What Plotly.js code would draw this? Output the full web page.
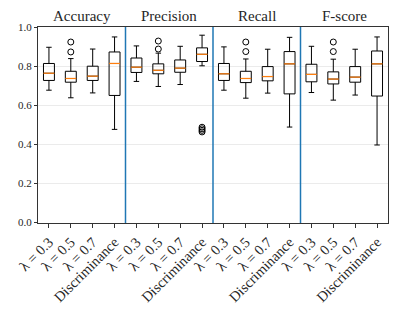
<!DOCTYPE html>
<html>
<head>
<meta charset="utf-8">
<script src="https://cdn.plot.ly/plotly-3.0.1.min.js"></script>
<style>html,body{margin:0;padding:0;background:#fff;}#chart{width:399px;height:310px;}</style>
</head>
<body>
<div id="chart"></div>
<script>
// Data
const groups = ["Accuracy", "Precision", "Recall", "F-score"];
const tickLabels = ["λ = 0.3", "λ = 0.5", "λ = 0.7", "Discriminance",
                    "λ = 0.3", "λ = 0.5", "λ = 0.7", "Discriminance",
                    "λ = 0.3", "λ = 0.5", "λ = 0.7", "Discriminance",
                    "λ = 0.3", "λ = 0.5", "λ = 0.7", "Discriminance"];
const lowerWhisker = [0.676, 0.637, 0.662, 0.475,  0.721, 0.695, 0.705, 0.801,  0.676, 0.635, 0.661, 0.487,  0.664, 0.625, 0.651, 0.395];
const q1Values     = [0.726, 0.717, 0.726, 0.649,  0.767, 0.760, 0.768, 0.823,  0.726, 0.715, 0.724, 0.657,  0.719, 0.708, 0.717, 0.646];
const medianValues = [0.763, 0.736, 0.748, 0.813,  0.794, 0.778, 0.789, 0.860,  0.760, 0.736, 0.746, 0.811,  0.757, 0.733, 0.743, 0.811];
const q3Values     = [0.813, 0.773, 0.799, 0.872,  0.841, 0.811, 0.831, 0.893,  0.813, 0.773, 0.797, 0.874,  0.809, 0.770, 0.797, 0.877];
const upperWhisker = [0.896, 0.838, 0.887, 0.949,  0.903, 0.866, 0.901, 0.958,  0.898, 0.836, 0.886, 0.947,  0.901, 0.835, 0.886, 0.949];
// outliers: [box index (1-based), value]
const outlierBox   = [2, 2, 6, 6, 8, 8, 8, 8, 10, 10, 14, 14];
const outlierValue = [0.923, 0.872, 0.928, 0.887, 0.462, 0.470, 0.478, 0.486, 0.923, 0.874, 0.923, 0.874];

const positions = tickLabels.map((_, i) => i + 1);
const boxWidth = 0.5;

const boxTrace = {
  type: 'box',
  x: positions,
  q1: q1Values,
  median: medianValues,
  q3: q3Values,
  lowerfence: lowerWhisker,
  upperfence: upperWhisker,
  width: boxWidth,
  whiskerwidth: 0.5,
  fillcolor: 'rgba(0,0,0,0)',
  line: {color: '#000', width: 1},
  boxpoints: false,
  hoverinfo: 'skip',
  showlegend: false
};

const medX = [], medY = [];
positions.forEach((p, i) => {
  medX.push(p - boxWidth / 2, p + boxWidth / 2, null);
  medY.push(medianValues[i], medianValues[i], null);
});
const medianTrace = {
  type: 'scatter', mode: 'lines', x: medX, y: medY,
  line: {color: '#ff7f0e', width: 1.2}, hoverinfo: 'skip', showlegend: false
};

const outlierTrace = {
  type: 'scatter', mode: 'markers', x: outlierBox, y: outlierValue,
  marker: {symbol: 'circle-open', size: 6, color: '#000', line: {width: 1, color: '#000'}},
  hoverinfo: 'skip', showlegend: false
};

const perGroup = 4;
const shapes = [];
for (let g = 1; g < groups.length; g++) {
  const xs = g * perGroup + 0.5;
  shapes.push({type: 'line', xref: 'x', yref: 'paper', x0: xs, x1: xs, y0: 0, y1: 1,
               line: {color: '#1f77b4', width: 1.5}});
}
const annotations = groups.map((name, g) => ({
  text: name, xref: 'x', yref: 'paper', x: g * perGroup + (perGroup + 1) / 2, y: 1,
  yanchor: 'bottom', yshift: 1, showarrow: false,
  font: {family: 'Liberation Serif, serif', size: 15, color: '#262626'}
}));

const layout = {
  width: 399, height: 310,
  margin: {l: 38, r: 11, t: 27, b: 87, pad: 0},
  paper_bgcolor: '#fff', plot_bgcolor: '#fff',
  showlegend: false,
  font: {family: 'Liberation Serif, serif', color: '#262626'},
  xaxis: {
    range: [0.5, 16.5], tickvals: positions, ticktext: tickLabels, tickangle: -45,
    showgrid: false, zeroline: false, showline: true, mirror: true, linecolor: '#333', linewidth: 1,
    ticks: 'outside', ticklen: 4, tickcolor: '#333',
    tickfont: {family: 'Liberation Serif, serif', size: 14.5, color: '#262626'}
  },
  yaxis: {
    range: [-0.005, 1.0], tickvals: [0, 0.2, 0.4, 0.6, 0.8, 1.0], tickformat: '.1f',
    showgrid: true, gridcolor: '#ebebeb', gridwidth: 1, zeroline: false,
    showline: true, mirror: true, linecolor: '#333', linewidth: 1,
    ticks: 'outside', ticklen: 3, tickcolor: '#333',
    tickfont: {family: 'Liberation Serif, serif', size: 11, color: '#262626'}
  },
  shapes: shapes,
  annotations: annotations
};

Plotly.newPlot('chart', [boxTrace, medianTrace, outlierTrace], layout, {displayModeBar: false, staticPlot: true});
</script>
</body>
</html>
